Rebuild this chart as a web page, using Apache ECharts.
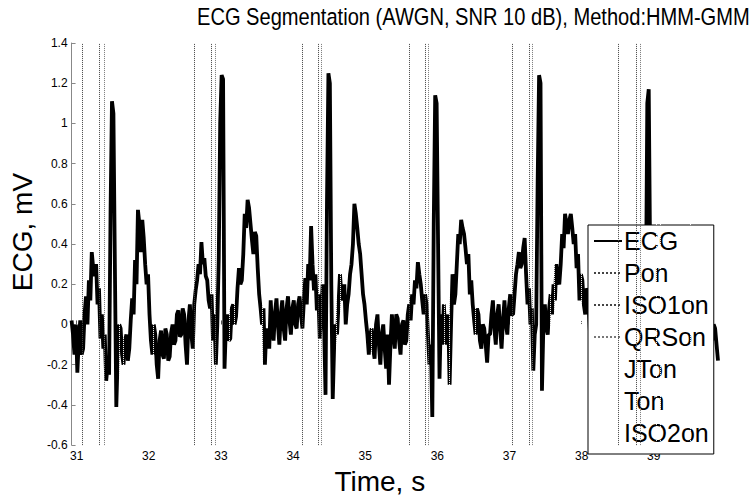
<!DOCTYPE html>
<html>
<head>
<meta charset="utf-8">
<script src="https://cdn.jsdelivr.net/npm/echarts@6/dist/echarts.min.js"></script>
<style>
  html, body { margin: 0; padding: 0; background: #fff; }
  #chart { width: 755px; height: 500px; }
</style>
</head>
<body>
<div id="chart"></div>
<script>
// ECG trace, sampled every 0.02 s starting at 30.93 s (values in mV)
const ECG_T0 = 30.93;
const ECG_DT = 0.02;
const ecgValues = [
  0.02, -0.05, -0.15, 0.00, -0.24, -0.08, 0.02, -0.15, -0.12, 0.05,
  0.14, 0.00, 0.22, 0.12, 0.36, 0.28, 0.24, 0.30, 0.10, 0.18,
  -0.07, 0.05, -0.12, -0.05, -0.28, -0.20, -0.25, 0.55, 1.11, 1.05,
  0.30, -0.41, -0.15, 0.00, -0.02, -0.15, -0.20, -0.08, -0.05, -0.18,
  -0.12, 0.02, 0.13, 0.05, 0.32, 0.20, 0.57, 0.50, 0.36, 0.52,
  0.43, 0.30, 0.20, 0.25, 0.05, -0.08, -0.15, 0.00, -0.05, -0.20,
  -0.27, -0.08, -0.03, -0.15, -0.17, -0.02, -0.05, -0.18, -0.16, -0.04,
  0.00, -0.10, -0.08, 0.05, 0.07, -0.06, -0.05, 0.08, 0.05, -0.10,
  -0.20, 0.02, 0.10, -0.05, -0.12, 0.10, 0.17, 0.22, 0.30, 0.25,
  0.41, 0.30, 0.33, 0.24, 0.22, 0.12, 0.08, 0.15, -0.08, 0.05,
  -0.20, 0.00, 0.33, 1.00, 1.24, 1.22, -0.22, 0.00, 0.05, -0.08,
  -0.07, 0.08, 0.10, 0.00, 0.04, 0.18, 0.28, 0.20, 0.22, 0.35,
  0.55, 0.48, 0.62, 0.58, 0.50, 0.42, 0.35, 0.46, 0.44, 0.28,
  0.15, 0.08, 0.00, 0.08, -0.20, -0.02, -0.05, -0.12, 0.12, -0.02,
  -0.08, 0.06, 0.13, 0.00, -0.10, 0.05, 0.12, -0.02, -0.08, 0.08,
  0.14, 0.02, -0.05, 0.08, 0.12, 0.00, -0.02, 0.10, 0.14, 0.05,
  -0.02, 0.12, 0.23, 0.10, 0.30, 0.22, 0.49, 0.30, 0.17, 0.25,
  0.07, 0.15, -0.07, 0.05, 0.20, 0.00, -0.35, 0.60, 1.25, 1.20,
  0.20, -0.37, -0.10, 0.00, -0.05, 0.10, 0.25, 0.15, 0.12, 0.20,
  0.00, 0.10, 0.15, 0.25, 0.30, 0.40, 0.60, 0.55, 0.48, 0.40,
  0.35, 0.25, 0.15, 0.10, 0.02, -0.05, -0.15, -0.05, -0.02, -0.12,
  -0.17, 0.00, 0.05, -0.10, -0.20, -0.05, 0.00, -0.12, -0.22, -0.05,
  -0.30, -0.10, 0.05, -0.05, -0.12, 0.05, 0.03, -0.08, -0.15, 0.00,
  0.02, -0.10, -0.08, 0.05, 0.10, 0.02, 0.15, 0.10, 0.22, 0.18,
  0.31, 0.25, 0.20, 0.12, 0.05, 0.15, 0.10, -0.05, -0.20, -0.10,
  -0.46, 0.50, 1.14, 1.10, 0.40, -0.27, 0.05, -0.10, 0.10, -0.05,
  -0.10, 0.05, -0.30, 0.00, 0.25, 0.10, 0.15, 0.30, 0.45, 0.40,
  0.52, 0.48, 0.45, 0.38, 0.30, 0.35, 0.15, 0.22, 0.10, 0.02,
  -0.05, 0.08, 0.05, -0.08, -0.12, 0.00, -0.02, -0.10, -0.19, -0.05,
  -0.05, 0.05, 0.12, -0.02, -0.10, 0.05, 0.10, -0.02, -0.12, 0.02,
  0.12, 0.00, -0.05, 0.08, 0.15, 0.05, 0.05, 0.15, 0.25, 0.30,
  0.36, 0.28, 0.30, 0.38, 0.43, 0.25, 0.10, 0.18, 0.00, 0.08,
  -0.23, -0.05, 0.00, 0.70, 1.24, 1.20, -0.33, 0.00, 0.10, -0.02,
  -0.05, 0.08, 0.15, 0.05, 0.20, 0.12, 0.30, 0.22, 0.20, 0.30,
  0.45, 0.38, 0.55, 0.50, 0.45, 0.52, 0.55, 0.48, 0.40, 0.45,
  0.28, 0.35, 0.12, 0.25, 0.22, 0.10, 0.05, 0.18, 0.15, 0.00,
  -0.15, 0.05, 0.10, -0.05, -0.08, 0.05, 0.12, 0.00, -0.05, 0.08,
  0.10, -0.02, -0.10, 0.05, 0.08, -0.02, -0.05, 0.08, 0.12, 0.15,
  0.20, 0.25, 0.30, 0.28, 0.35, 0.30, 0.25, 0.20, 0.10, 0.15,
  0.05, -0.02, -0.10, -0.05, -0.25, -0.10, 0.10, 0.30, 0.10, 1.10,
  1.17, 0.30, -0.35, -0.10, 0.00, -0.12, -0.10, 0.05, 0.12, 0.02,
  0.05, 0.15, 0.20, 0.28, 0.30, 0.38, 0.45, 0.40, 0.48, 0.42,
  0.42, 0.35, 0.30, 0.22, 0.15, 0.10, 0.05, -0.05, -0.10, 0.02,
  0.05, -0.08, -0.12, 0.00, 0.03, -0.10, -0.15, 0.00, 0.02, -0.08,
  -0.10, 0.02, 0.05, -0.05, -0.08, 0.00, -0.02, -0.10, -0.18
];

// segmentation onsets (s)
const ponTimes = [31.08, 32.63, 34.13, 35.61, 37.04, 38.51];
const iso1onTimes = [31.32, 32.87, 34.35, 35.83, 37.27, 38.75];
const qrsonTimes = [31.38, 32.92, 34.39, 35.87, 37.31, 38.81];
const jtonTimes = [31.59, 33.11, 34.60, 36.10, 37.57, 39.03];
const tonTimes = [31.65, 33.18, 34.66, 36.16, 37.62, 39.09];
const iso2onTimes = [32.06, 33.57, 35.08, 36.53, 38.00, 39.50];

const xTicks = [31, 32, 33, 34, 35, 36, 37, 38, 39];

const FONT = '"Liberation Sans", Arial, Helvetica, sans-serif';

const ecgData = ecgValues.map((v, i) => [+(ECG_T0 + i * ECG_DT).toFixed(3), v]);

function markerSeries(name, times, color, z) {
  return {
    name: name,
    type: 'line',
    data: [],
    symbol: 'none',
    z: z,
    lineStyle: { color: color, width: 1, type: 'dotted' },
    itemStyle: { color: color },
    markLine: {
      silent: true,
      symbol: 'none',
      animation: false,
      label: { show: false },
      lineStyle: { color: color, width: 1, type: 'dotted' },
      data: times.map(t => ({ xAxis: t }))
    }
  };
}

const chart = echarts.init(document.getElementById('chart'), null, { renderer: 'svg' });

chart.setOption({
  animation: false,
  backgroundColor: '#fff',
  // title is drawn narrow like the original (condensed Helvetica)
  graphic: [{
    type: 'text',
    x: 197,
    y: 4,
    scaleX: 0.82,
    style: {
      text: 'ECG Segmentation (AWGN, SNR 10 dB), Method:HMM-GMM',
      fontFamily: FONT,
      fontSize: 24.5,
      fill: '#000',
      textVerticalAlign: 'top'
    }
  }],
  grid: { left: 62, right: 37, top: 43, bottom: 45, containLabel: false },
  legend: {
    orient: 'vertical',
    left: 588,
    top: 225,
    padding: [3, 5, 8, 5],
    itemGap: 6,
    itemWidth: 28,
    itemHeight: 14,
    backgroundColor: '#fff',
    borderColor: '#000',
    borderWidth: 1,
    borderRadius: 0,
    selectedMode: false,
    itemStyle: { opacity: 0 },
    textStyle: { fontFamily: FONT, fontSize: 25, lineHeight: 26, color: '#000', padding: [0, 0, 0, -3] },
    data: ['ECG', 'Pon', 'ISO1on', 'QRSon', 'JTon', 'Ton', 'ISO2on']
  },
  xAxis: {
    type: 'value',
    min: 30.93,
    max: 39.89,
    name: 'Time, s',
    nameLocation: 'middle',
    nameGap: 16,
    nameTextStyle: { fontFamily: FONT, fontSize: 28, color: '#000', padding: [0, 30, 0, 0] },
    axisLine: { show: false },
    axisTick: { show: true, inside: true, length: 4, customValues: xTicks, lineStyle: { color: '#555' } },
    axisLabel: { customValues: xTicks, fontFamily: FONT, fontSize: 12, color: '#000', margin: 5 },
    splitLine: { show: false }
  },
  yAxis: {
    type: 'value',
    min: -0.6,
    max: 1.4,
    interval: 0.2,
    name: 'ECG, mV',
    nameLocation: 'middle',
    nameGap: 26,
    nameTextStyle: { fontFamily: FONT, fontSize: 28, color: '#000', padding: [0, 0, 0, 24] },
    axisLine: { show: true, lineStyle: { color: '#888', width: 1 } },
    axisTick: { show: true, inside: true, length: 4, lineStyle: { color: '#888' } },
    axisLabel: { fontFamily: FONT, fontSize: 12, color: '#000', margin: 4 },
    splitLine: { show: false }
  },
  series: [
    {
      name: 'ECG',
      type: 'line',
      data: ecgData,
      symbol: 'none',
      z: 2,
      lineStyle: { color: '#000', width: 3.8 },
      itemStyle: { color: '#000' }
    },
    markerSeries('Pon', ponTimes, '#444', 3),
    markerSeries('ISO1on', iso1onTimes, '#444', 3),
    markerSeries('QRSon', qrsonTimes, '#777', 3),
    markerSeries('JTon', jtonTimes, '#fff', 4),
    markerSeries('Ton', tonTimes, '#fff', 4),
    markerSeries('ISO2on', iso2onTimes, '#fff', 4)
  ]
});
</script>
</body>
</html>
